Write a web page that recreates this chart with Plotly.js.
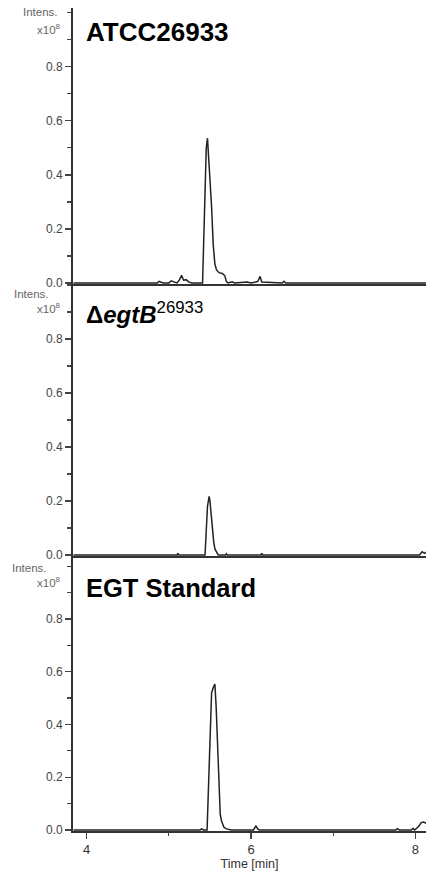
<!DOCTYPE html>
<html>
<head>
<meta charset="utf-8">
<script src="https://cdn.plot.ly/plotly-3.0.1.min.js"></script>
<style>
  html, body { margin: 0; padding: 0; background: #fff; }
  #chart { width: 426px; height: 871px; }
</style>
</head>
<body>
<div id="chart"></div>
<script>
// Extracted ion chromatograms, intensity in units of 1e8, time in minutes

const panelTitles = [
  "<b>ATCC26933</b>",
  "<b>Δ<i>egtB</i></b><sup>26933</sup>",
  "<b>EGT Standard</b>"
];

const timeATCC = [3.84, 4.86, 4.88, 4.90, 4.93, 5.00, 5.03, 5.06, 5.10, 5.13, 5.155, 5.18, 5.21, 5.24, 5.28,
  5.41, 5.425, 5.44, 5.455, 5.47, 5.485, 5.50, 5.52, 5.54, 5.56, 5.58, 5.61, 5.65, 5.68, 5.70, 5.72,
  5.77, 5.80, 5.95, 6.00, 6.08, 6.11, 6.13, 6.38, 6.40, 6.42, 8.13];
const intensATCC = [0, 0, 0.006, 0.004, 0, 0, 0.008, 0.004, 0, 0.012, 0.028, 0.01, 0.012, 0.004, 0,
  0, 0.15, 0.36, 0.50, 0.536, 0.47, 0.38, 0.28, 0.14, 0.07, 0.048, 0.038, 0.035, 0.027, 0.005, 0,
  0.004, 0, 0.003, 0, 0.005, 0.024, 0.003, 0, 0.006, 0, 0];

const timeEgtB = [3.84, 5.10, 5.11, 5.12, 5.44, 5.455, 5.47, 5.49, 5.50, 5.515, 5.53, 5.545, 5.56, 5.58, 5.60,
  5.69, 5.70, 5.71, 6.12, 6.13, 6.14, 8.05, 8.08, 8.11, 8.13];
const intensEgtB = [0, 0, 0.006, 0, 0, 0.08, 0.18, 0.217, 0.20, 0.15, 0.096, 0.05, 0.022, 0.008, 0,
  0, 0.004, 0, 0, 0.006, 0, 0, 0.012, 0.006, 0.01];

const timeStd = [3.84, 5.38, 5.40, 5.42, 5.465, 5.48, 5.50, 5.52, 5.54, 5.56, 5.575, 5.59, 5.60, 5.61, 5.625,
  5.64, 5.67, 5.70, 5.73, 5.76, 6.03, 6.06, 6.08, 6.10, 7.76, 7.78, 7.80, 7.95, 7.97, 7.99, 8.04, 8.07, 8.10, 8.13];
const intensStd = [0, 0, 0.004, 0, 0, 0.15, 0.38, 0.52, 0.54, 0.553, 0.47, 0.345, 0.22, 0.117, 0.06,
  0.035, 0.01, 0.004, 0.003, 0, 0, 0.016, 0.004, 0, 0, 0.005, 0, 0, 0.006, 0, 0.014, 0.028, 0.03, 0.025];

const yTickVals = [0, 0.2, 0.4, 0.6, 0.8];
const yTickText = ["0.0", "0.2", "0.4", "0.6", "0.8"];
const xTickVals = [4, 6, 8];
const xTickText = ["4", "6", "8"];
const xMinorVals = [5, 7];

const lineStyle = { color: "#222", width: 1.5 };

const traces = [
  { x: timeATCC, y: intensATCC, xaxis: "x", yaxis: "y" },
  { x: timeEgtB, y: intensEgtB, xaxis: "x2", yaxis: "y2" },
  { x: timeStd, y: intensStd, xaxis: "x3", yaxis: "y3" }
].map(t => Object.assign(t, { type: "scatter", mode: "lines", line: lineStyle, hoverinfo: "skip" }));

// page geometry: plot area runs from y=8 to y=831 px, x=73 to 426 px
const pageH = 871, areaTop = 8, areaBottom = 831;
const areaH = areaBottom - areaTop;
const py = Y => (areaBottom - Y) / areaH;   // pixel row -> paper y
const px = X => (X - 73) / 353;             // pixel column -> paper x

const xRange = [3.834, 8.128];

function yAxis(domain, range) {
  return {
    domain: domain, range: range, fixedrange: true,
    showline: true, linecolor: "#333", linewidth: 1.8,
    showgrid: false, zeroline: false,
    tickmode: "array", tickvals: yTickVals, ticktext: yTickText,
    ticks: "outside", ticklen: 6, tickwidth: 1.2, tickcolor: "#444",
    tickfont: { family: "Liberation Sans, Arial, sans-serif", size: 12, color: "#444" },
    minor: { tickmode: "array", tickvals: [0.1, 0.3, 0.5, 0.7, 0.9, 1.0], ticks: "outside", ticklen: 4, tickwidth: 1.2, tickcolor: "#444" }
  };
}

function xAxis(anchor, showLabels) {
  const ax = {
    anchor: anchor, range: xRange, fixedrange: true,
    showline: true, linecolor: "#333", linewidth: 1.8,
    showgrid: false, zeroline: false
  };
  if (showLabels) {
    Object.assign(ax, {
      tickmode: "array", tickvals: xTickVals, ticktext: xTickText,
      ticks: "outside", ticklen: 6, tickwidth: 1.2, tickcolor: "#444",
      tickfont: { family: "Liberation Sans, Arial, sans-serif", size: 13, color: "#333" },
      minor: { tickmode: "array", tickvals: xMinorVals, ticks: "outside", ticklen: 3, tickwidth: 1.2, tickcolor: "#444" },
      title: { text: "Time [min]", standoff: 0, font: { family: "Liberation Sans, Arial, sans-serif", size: 12.5, color: "#333" } }
    });
  } else {
    Object.assign(ax, { showticklabels: false, ticks: "" });
  }
  return ax;
}

const labelFont = { family: "Liberation Sans, Arial, sans-serif", size: 11.5, color: "#666" };
const titleFont = { family: "Liberation Sans, Arial, sans-serif", color: "#000" };

// per-panel pixel positions for the unit label and the panel heading
const intensPos = [[60, 12], [51, 294], [49, 568]];
const scalePos = [[63, 29], [63, 308], [63, 582]];
const headRows = [32.5, 312.5, 588];
const headSizes = [26, 24, 25.5];

const annotations = [];
panelTitles.forEach((txt, i) => {
  annotations.push({
    xref: "paper", yref: "paper", x: px(intensPos[i][0]), y: py(intensPos[i][1]),
    xanchor: "right", yanchor: "middle", showarrow: false, text: "Intens.", font: labelFont
  });
  annotations.push({
    xref: "paper", yref: "paper", x: px(scalePos[i][0]), y: py(scalePos[i][1]),
    xanchor: "right", yanchor: "middle", showarrow: false, text: "x10<sup>8</sup>", font: labelFont
  });
  annotations.push({
    xref: "paper", yref: "paper", x: px(84), y: py(headRows[i]),
    xanchor: "left", yanchor: "middle", showarrow: false, text: txt,
    font: Object.assign({ size: headSizes[i] }, titleFont)
  });
});

const layout = {
  width: 426, height: pageH,
  margin: { l: 73, r: 0, t: areaTop, b: pageH - areaBottom },
  paper_bgcolor: "#fff", plot_bgcolor: "#fff",
  showlegend: false,
  xaxis: xAxis("y", false),
  xaxis2: xAxis("y2", false),
  xaxis3: xAxis("y3", true),
  yaxis: yAxis([py(284), 1], [-0.004, 1.018]),
  yaxis2: yAxis([py(556), py(285)], [-0.004, 1.0]),
  yaxis3: yAxis([0, py(557)], [-0.004, 1.035]),
  annotations: annotations
};

Plotly.newPlot("chart", traces, layout, { staticPlot: true, displayModeBar: false });
</script>
</body>
</html>
